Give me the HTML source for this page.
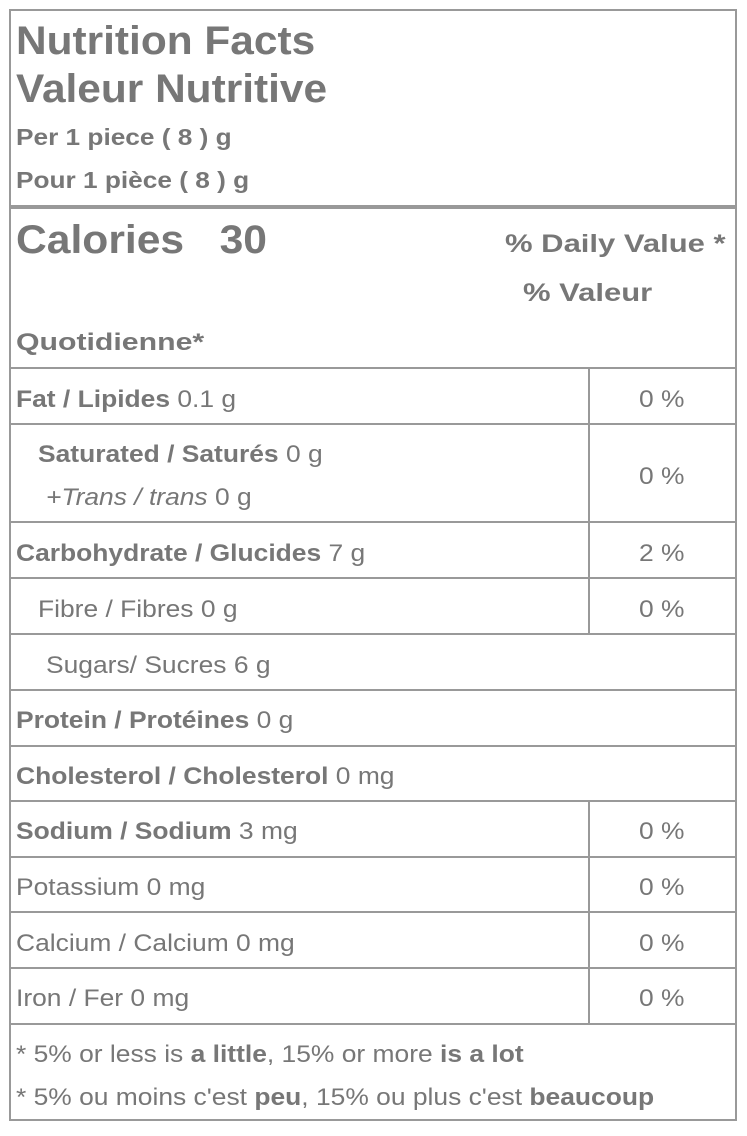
<!DOCTYPE html>
<html><head><style>
body{margin:0;background:#fff;width:747px;height:1136px;position:relative;font-family:"Liberation Sans",Arial,sans-serif;color:#777;}
.t{position:absolute;white-space:nowrap;line-height:1;transform-origin:0 0;}
.b{font-weight:bold}
.h{position:absolute;background:#999;height:2px;}
.v{position:absolute;background:#999;width:2px;}
.r{font-size:24px;transform:scaleX(1.1)}
</style></head><body>
<div style="position:absolute;left:9px;top:9px;width:724px;height:1108px;border:2px solid #999;"></div>
<div class="h" style="left:9px;width:728px;top:205px;height:4px;"></div>
<div class="h" style="left:9px;width:728px;top:367px"></div>
<div class="h" style="left:9px;width:728px;top:423px"></div>
<div class="h" style="left:9px;width:728px;top:521px"></div>
<div class="h" style="left:9px;width:728px;top:577px"></div>
<div class="h" style="left:9px;width:728px;top:633px"></div>
<div class="h" style="left:9px;width:728px;top:689px"></div>
<div class="h" style="left:9px;width:728px;top:745px"></div>
<div class="h" style="left:9px;width:728px;top:800px"></div>
<div class="h" style="left:9px;width:728px;top:856px"></div>
<div class="h" style="left:9px;width:728px;top:911px"></div>
<div class="h" style="left:9px;width:728px;top:967px"></div>
<div class="h" style="left:9px;width:728px;top:1023px"></div>
<div class="v" style="left:588px;top:367px;height:268px"></div>
<div class="v" style="left:588px;top:800px;height:224px"></div>

<div class="t b" style="left:16px;top:21px;font-size:40px;transform:scaleX(1.06)">Nutrition Facts</div>
<div class="t b" style="left:16px;top:69px;font-size:40px;transform:scaleX(1.06)">Valeur Nutritive</div>
<div class="t b" style="left:16px;top:126px;font-size:23px;transform:scaleX(1.14)">Per 1 piece ( 8 ) g</div>
<div class="t b" style="left:16px;top:169px;font-size:23px;transform:scaleX(1.14)">Pour 1 pièce ( 8 ) g</div>
<div class="t b" style="left:16px;top:220px;font-size:40px;transform:scaleX(1.065)">Calories&nbsp;&nbsp;&nbsp;30</div>
<div class="t b" style="left:505px;top:232px;font-size:25px;transform:scaleX(1.24)">% Daily Value *</div>
<div class="t b" style="left:523px;top:281px;font-size:25px;transform:scaleX(1.24)">% Valeur</div>
<div class="t b" style="left:16px;top:331px;font-size:24px;transform:scaleX(1.26)">Quotidienne*</div>

<div class="t r" style="left:16px;top:388px"><b>Fat / Lipides</b> 0.1 g</div>
<div class="t r" style="left:639px;top:388px">0 %</div>
<div class="t r" style="left:38px;top:443px"><b>Saturated / Saturés</b> 0 g</div>
<div class="t r" style="left:46px;top:486px"><i>+Trans / trans</i> 0 g</div>
<div class="t r" style="left:639px;top:465px">0 %</div>
<div class="t r" style="left:16px;top:542px"><b>Carbohydrate / Glucides</b> 7 g</div>
<div class="t r" style="left:639px;top:542px">2 %</div>
<div class="t r" style="left:38px;top:598px">Fibre / Fibres 0 g</div>
<div class="t r" style="left:639px;top:598px">0 %</div>
<div class="t r" style="left:46px;top:654px">Sugars/ Sucres 6 g</div>
<div class="t r" style="left:16px;top:709px"><b>Protein / Protéines</b> 0 g</div>
<div class="t r" style="left:16px;top:765px"><b>Cholesterol / Cholesterol</b> 0 mg</div>
<div class="t r" style="left:16px;top:820px"><b>Sodium / Sodium</b> 3 mg</div>
<div class="t r" style="left:639px;top:820px">0 %</div>
<div class="t r" style="left:16px;top:876px">Potassium 0 mg</div>
<div class="t r" style="left:639px;top:876px">0 %</div>
<div class="t r" style="left:16px;top:932px">Calcium / Calcium 0 mg</div>
<div class="t r" style="left:639px;top:932px">0 %</div>
<div class="t r" style="left:16px;top:987px">Iron / Fer 0 mg</div>
<div class="t r" style="left:639px;top:987px">0 %</div>
<div class="t r" style="left:16px;top:1043px">* 5% or less is <b>a little</b>, 15% or more <b>is a lot</b></div>
<div class="t r" style="left:16px;top:1086px">* 5% ou moins c'est <b>peu</b>, 15% ou plus c'est <b>beaucoup</b></div>
</body></html>
